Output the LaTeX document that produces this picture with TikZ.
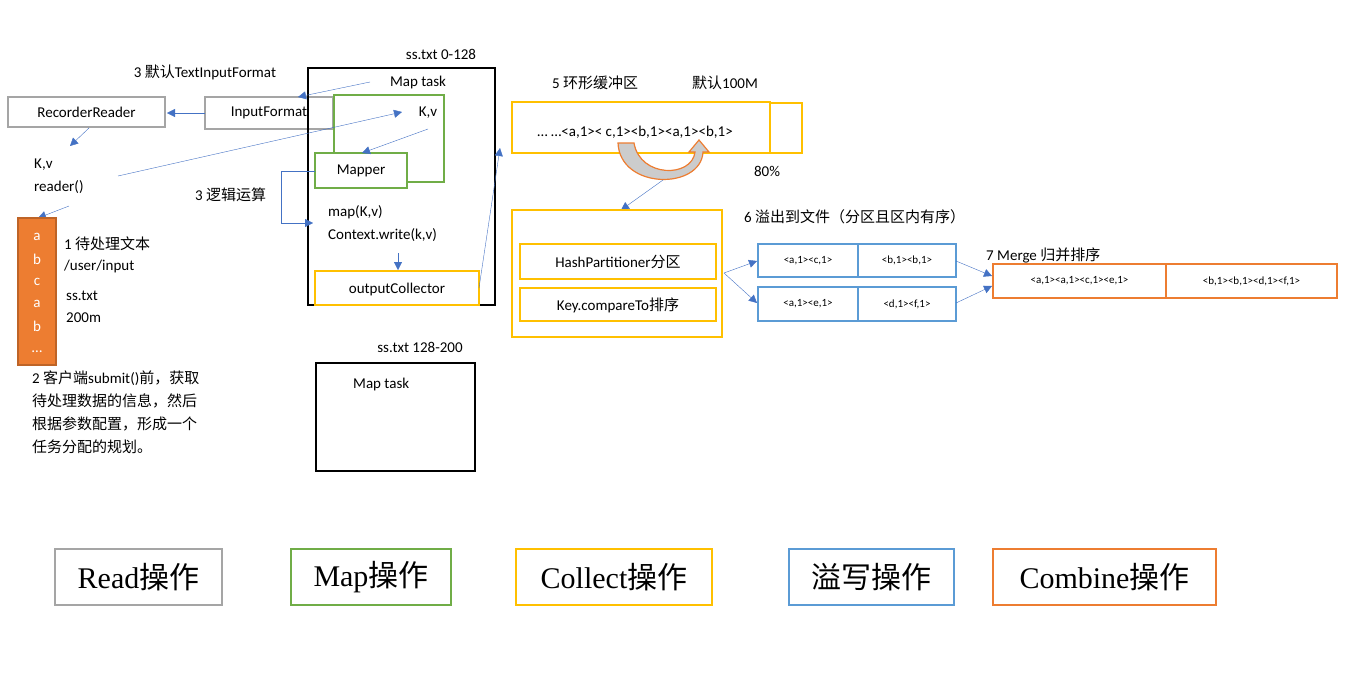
\documentclass[tikz,border=0pt]{standalone}
\usepackage{fontspec}
\setmainfont{Carlito}
\newfontfamily\cjk{Noto Sans CJK SC}
\newfontfamily\serifen{Liberation Serif}
\newfontfamily\cjkserif{Noto Sans CJK SC}
\newcommand{\zh}[1]{{\cjk #1}}
\usetikzlibrary{arrows.meta}
\definecolor{cgray}{HTML}{A5A5A5}
\definecolor{cgreen}{HTML}{70AD47}
\definecolor{cyel}{HTML}{FFC000}
\definecolor{cblue}{HTML}{5B9BD5}
\definecolor{corange}{HTML}{ED7D31}
\definecolor{carrow}{HTML}{4472C4}
\begin{document}
\begin{tikzpicture}[x=1pt,y=-1pt,
  txt/.style={font=\fontsize{15}{18}\selectfont,inner sep=0pt},
  sm/.style={font=\fontsize{11}{13}\selectfont,inner sep=0pt},
  bx/.style={line width=1.6pt},
  arr/.style={carrow,-{Triangle[length=8pt,width=8pt]}},
  lg/.style={line width=1.6pt,font=\fontsize{30}{34}\selectfont\serifen,inner sep=0pt}]
\useasboundingbox (0,0) rectangle (1347,688);
% top-left boxes
\draw[bx,cgray] (8,97) rectangle (165,127) node[pos=.5,black,txt] (rr) {RecorderReader};
\coordinate (rrR) at (167,113); \coordinate (rrB) at (89,128);
\draw[bx,cgray] (205,97) rectangle (333,129) node[pos=.5,black,txt] (inf) {InputFormat};
\coordinate (infL) at (205,113); \coordinate (infT) at (298,97);
\node[txt] (t3) at (205,72) {3 \zh{默认}TextInputFormat};
% map task box
\draw[bx,black] (308,68) rectangle (495,305);
\node[txt] (ss1) at (441,54) {ss.txt 0-128};
\node[txt] (mt) at (418,83) {Map task};
\draw[bx,cgreen] (334,95) rectangle (444,182);
\node[txt] (kv2) at (428,113) {K,v};
\draw[bx,cgreen,fill=white] (315,153) rectangle (407,188);
\node[txt] (mapper) at (361,171) {Mapper};
\node[txt,anchor=west] (mp) at (328,212) {map(K,v)};
\node[txt,anchor=west] (cw) at (328,235) {Context.write(k,v)};
\draw[bx,cyel] (315,271) rectangle (479,305);
\node[txt] (oc) at (397,289) {outputCollector};
\node[txt,anchor=west] (kv1) at (34,165) {K,v};
\node[txt,anchor=west] (rd) at (34,187) {reader()};
\node[txt,anchor=west] (t3b) at (195,195) {3 \zh{逻辑运算}};
% arrows
\coordinate (a1) at (370,82);
\draw[arr] (a1) -- (infT);
\draw[arr] (infL) -- (rrR);
\coordinate (rr2) at (70,146);
\draw[arr] (rrB) -- (rr2);
\coordinate (rd1) at (118,176); \coordinate (kva) at (402,112);
\draw[arr] (rd1) -- (kva);
\coordinate (kvb) at (428,129); \coordinate (mpt) at (362,153);
\draw[arr] (kvb) -- (mpt);
\coordinate (rd2) at (69,206); \coordinate (col) at (38,218);
\draw[arr] (rd2) -- (col);
\coordinate (mpl) at (315,171); \coordinate (mpw) at (313,223);
\draw[arr] (mpl) -- (281,171) |- (mpw);
\coordinate (cwb) at (398,253); \coordinate (oct) at (398,270);
\draw[arr] (cwb) -- (oct);
\coordinate (ocr) at (479,288); \coordinate (buf) at (500,148);
\draw[arr] (ocr) -- (buf);
% orange column
\draw[bx,corange!80!black,fill=corange] (18,218) rectangle (56,365);
\foreach \l/\y in {a/237,b/259,c/282,a/304,b/326} \node[txt,white] at (37,\y) {\l};
\node[txt,white] (dots) at (37,352) {\ldots};
\node[txt,anchor=west] (p1) at (64,244) {1 \zh{待处理文本}};
\node[txt,anchor=west] (p2) at (64,266) {/user/input};
\node[txt,anchor=west] (p3) at (66,296) {ss.txt};
\node[txt,anchor=west] (p4) at (66,318) {200m};
\node[txt,anchor=north west,align=left,font=\fontsize{15}{23}\selectfont] (p5) at (32,371) {2 \zh{客户端}submit()\zh{前，获取}\\ \zh{待处理数据的信息，然后}\\ \zh{根据参数配置，形成一个}\\ \zh{任务分配的规划。}};
% second map task
\node[txt] (ss2) at (420,347) {ss.txt 128-200};
\draw[bx,black] (316,363) rectangle (475,471);
\node[txt,anchor=west] (mt2) at (353,384) {Map task};
% buffer
\draw[bx,cyel] (770,103) rectangle (802,153);
\draw[bx,cyel] (512,102) rectangle (770,153);
\node[txt] (bt) at (635,132) {\ldots{} \ldots<a,1>< c,1><b,1><a,1><b,1>};
\node[txt] (b5) at (595,83) {5 \zh{环形缓冲区}};
\node[txt] (b6) at (725,83) {\zh{默认}100M};
\node[txt] (b8) at (767,171) {80\%};
\draw[corange,line width=1.2pt,fill=gray!40] (618,143) .. controls (620,190) and (701,190) .. (703,152) -- (709,152) -- (699,140) -- (689,152) -- (695,152) .. controls (692,178) and (640,178) .. (634,143) -- cycle;
\coordinate (cu) at (663,180); \coordinate (colt) at (621,210);
\draw[arr] (cu) -- (colt);
% collect box
\draw[bx,cyel] (512,210) rectangle (722,337);
\draw[bx,cyel] (520,244) rectangle (716,279);
\node[txt] (hp) at (618,262) {HashPartitioner\zh{分区}};
\draw[bx,cyel] (520,288) rectangle (716,321);
\node[txt] (kc) at (618,305) {Key.compareTo\zh{排序}};
\node[txt,anchor=west] (s6) at (744,217) {6 \zh{溢出到文件（分区且区内有序）}};
\coordinate (hpr) at (724,273); \coordinate (u1) at (757,261); \coordinate (u2) at (757,303);
\draw[arr] (hpr) -- (u1); \draw[arr] (hpr) -- (u2);
% spill boxes
\draw[bx,cblue] (758,244) rectangle (858,277) node[pos=.5,black,sm] (s1) {<a,1><c,1>};
\draw[bx,cblue] (858,244) rectangle (956,277) node[pos=.5,black,sm] (s2) {<b,1><b,1>};
\draw[bx,cblue] (758,287) rectangle (858,321) node[pos=.5,black,sm] (s3) {<a,1><e,1>};
\draw[bx,cblue] (858,287) rectangle (956,321) node[pos=.5,black,sm] (s4) {<d,1><f,1>};
\coordinate (v1) at (956,261); \coordinate (v2) at (956,303);
\coordinate (w1) at (992,276); \coordinate (w2) at (992,286);
\draw[arr] (v1) -- (w1); \draw[arr] (v2) -- (w2);
\node[txt,anchor=west] (m7) at (986,255) {7 Merge \zh{归并排序}};
\draw[bx,corange] (993,264) rectangle (1166,298) node[pos=.5,black,sm] (o1) {<a,1><a,1><c,1><e,1>};
\draw[bx,corange] (1166,264) rectangle (1337,298) node[pos=.5,black,sm] (o2) {<b,1><b,1><d,1><f,1>};
% legend
\draw[lg,cgray] (55,549) rectangle (222,605) node[pos=.5,black,lg] (l1) {Read{\cjkserif 操作}};
\draw[lg,cgreen] (291,549) rectangle (451,605) node[pos=.5,black,lg] (l2) {Map{\cjkserif 操作}};
\draw[lg,cyel] (516,549) rectangle (712,605) node[pos=.5,black,lg] (l3) {Collect{\cjkserif 操作}};
\draw[lg,cblue] (789,549) rectangle (954,605) node[pos=.5,black,lg] (l4) {{\cjkserif 溢写操作}};
\draw[lg,corange] (993,549) rectangle (1216,605) node[pos=.5,black,lg] (l5) {Combine{\cjkserif 操作}};
\end{tikzpicture}
\end{document}
